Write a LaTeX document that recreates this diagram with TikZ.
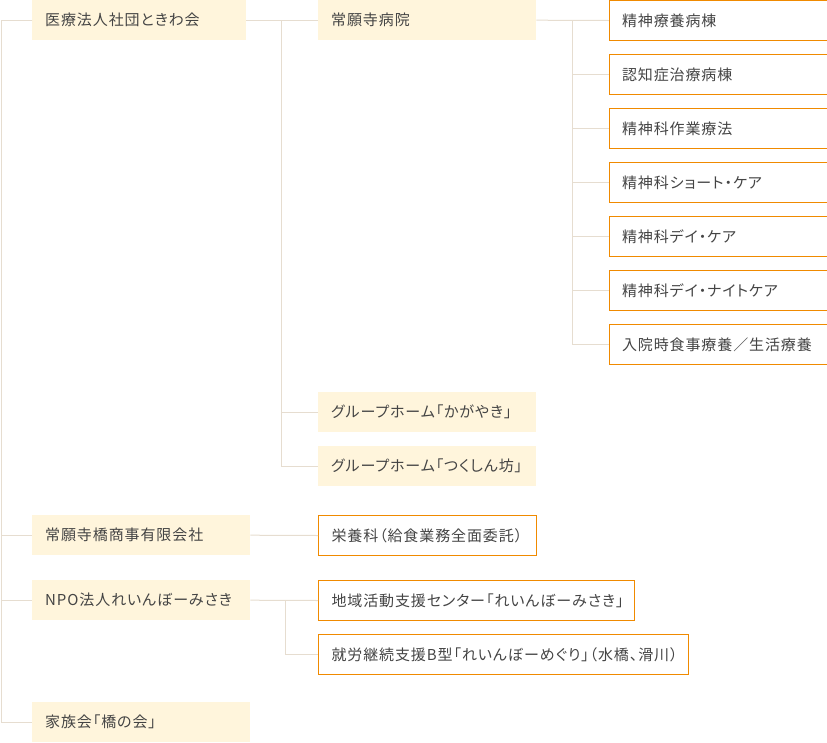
\documentclass[tikz,border=0pt]{standalone}
\usepackage{fontspec}
\setmainfont[RawFeature=+palt,LetterSpace=6]{Noto Sans CJK JP}
\usepackage{tikz}
\usetikzlibrary{positioning,calc}
\definecolor{cream}{HTML}{FFF5DC}
\definecolor{tangerine}{HTML}{F08A00}
\definecolor{twig}{HTML}{E6DDD0}
\definecolor{txt}{HTML}{444444}

\begin{document}
\begin{tikzpicture}[x=1pt,y=1pt,
    box/.style={anchor=north west,minimum height=40pt,text width=192pt,inner xsep=13pt,inner ysep=0pt,
      align=left,text=txt,font=\fontsize{15}{18}\selectfont},
    org/.style={box,fill=cream},
    unit/.style={box,draw=tangerine,line width=1pt},
    link/.style={draw=twig,line width=1pt}]
  \useasboundingbox (0,0) rectangle (827,-742);
  % corporations
  \node[org,text width=188pt] (corp) at (32,0) {医療法人社団ときわ会};
  \node[org] (shoji) at (32,-515) {常願寺橋商事有限会社};
  \node[org] (npo) at (32,-580) {NPO法人れいんぼーみさき};
  \node[org] (kazoku) at (32,-702) {家族会「橋の会」};
  % hospital and homes
  \node[org] (hosp) at (318,0) {常願寺病院};
  \node[org] (gh1) at (318,-392) {グループホーム「かがやき」};
  \node[org] (gh2) at (318,-446) {グループホーム「つくしん坊」};
  \node[unit] (eiyo) at (318,-515) {栄養科（給食業務全面委託）};
  \node[unit,text width=290pt] (chiiki) at (318,-580) {地域活動支援センター「れいんぼーみさき」};
  \node[unit,text width=344pt] (shuro) at (318,-634) {就労継続支援B型「れいんぼーめぐり」（水橋、滑川）};
  % left trunk
  \draw[link] (corp.west) -- ++(-31,0) |- (shoji.west);
  \draw[link] (corp.west) -- ++(-31,0) |- (npo.west);
  \draw[link] (corp.west) -- ++(-31,0) |- (kazoku.west);
  % hospital branch
  \draw[link] (corp.east) -- (hosp.west);
  \draw[link] (corp.east) ++(35,0) |- (gh1.west);
  \draw[link] (corp.east) ++(35,0) |- (gh2.west);
  \draw[link] (shoji.east) -- (eiyo.west);
  \draw[link] (npo.east) -- (chiiki.west);
  \draw[link] (npo.east) ++(35,0) |- (shuro.west);
  % wards
  \foreach \lbl [count=\i] in {精神療養病棟,認知症治療病棟,精神科作業療法,精神科ショート・ケア,
      精神科デイ・ケア,精神科デイ・ナイトケア,入院時食事療養／生活療養}
     {\node[unit] (ward\i) at (608.5,{-54*(\i-1)}) {\lbl};
      \draw[link] (hosp.east) ++(36,0) |- (ward\i.west);}
  \draw[link] (hosp.east) -- (ward1.west);
\end{tikzpicture}
\end{document}
